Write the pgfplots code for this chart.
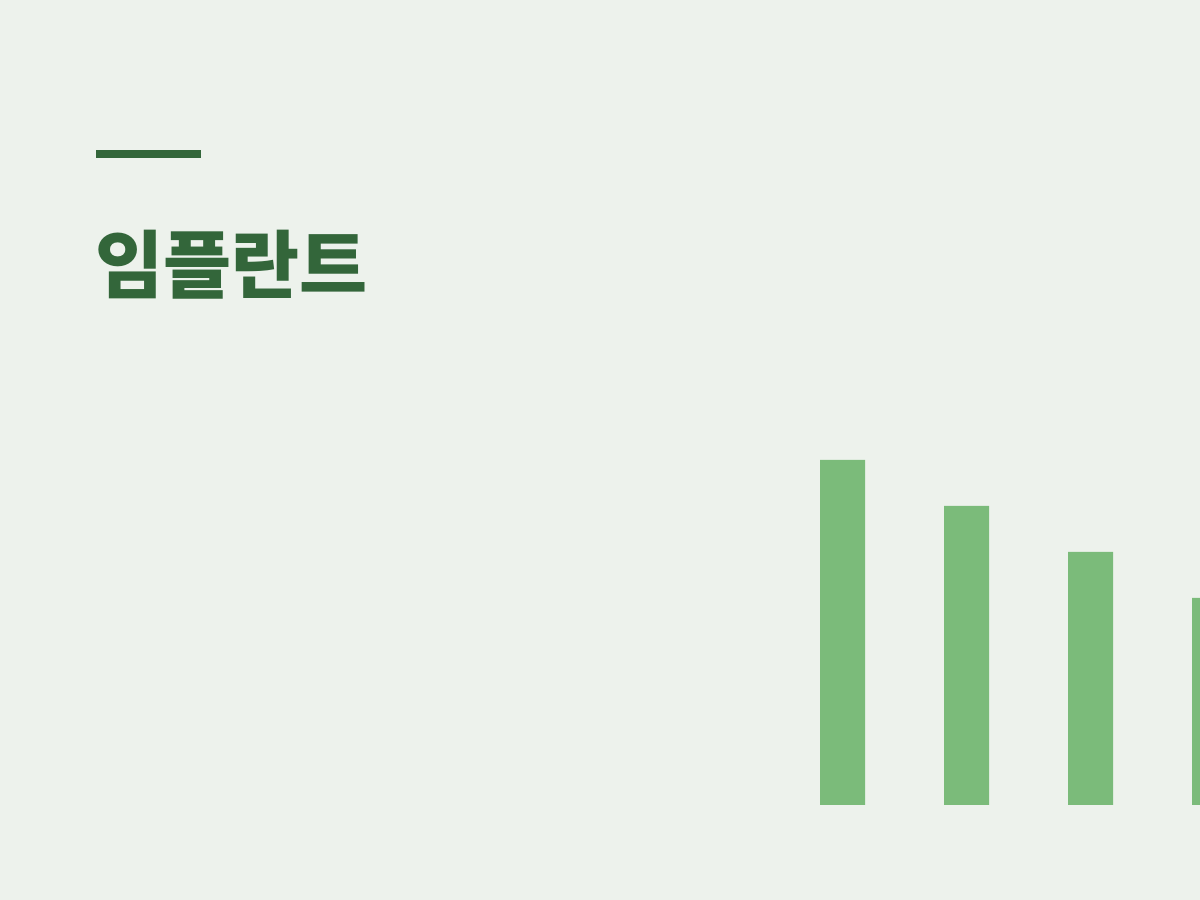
\documentclass[border=0pt]{standalone}
\usepackage{pgfplots}
\pgfplotsset{compat=1.18}
\usepackage{fontspec}
\newfontfamily\cjk{Noto Sans CJK KR}
\definecolor{bg}{HTML}{EDF2EC}
\definecolor{dark}{HTML}{33663A}
\definecolor{barc}{HTML}{7BBB7A}
\begin{document}
\begin{tikzpicture}
\fill[bg] (0,0) rectangle (600pt,450pt);
\begin{scope}[x=0.5pt,y=-0.5pt,shift={(0,-900)}]
\fill[dark] (96,150) rectangle (201,158.5);
\node[anchor=base west,inner sep=0pt,text=dark,font=\cjk\bfseries\fontsize{37pt}{41pt}\selectfont] at (95,293) {임플란트};
\end{scope}
\begin{axis}[
  at={(0,0)},anchor=south west,
  scale only axis,width=600pt,height=450pt,
  xmin=-6.794,xmax=2.883,
  ymin=-20.652,ymax=175,
  hide axis,clip=true,
  ybar,bar width=22.5pt,
]
\addplot[fill=barc,draw=none] coordinates {(0,75) (1,65) (2,55) (3,45)};
\end{axis}
\end{tikzpicture}
\end{document}
